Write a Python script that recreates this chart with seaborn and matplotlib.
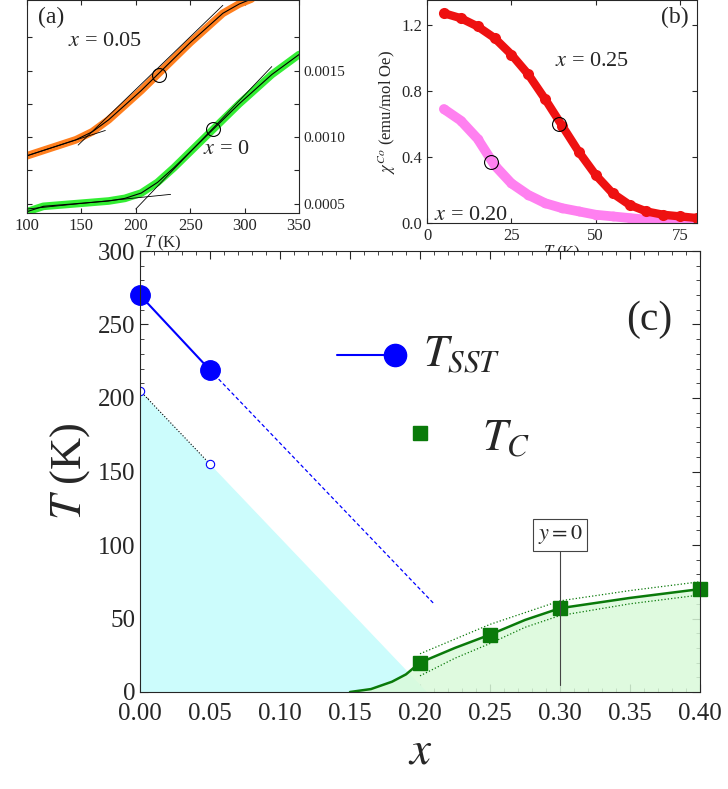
import numpy as np
import matplotlib.pyplot as plt
import seaborn as sns

# panel (a): susceptibility vs T
t_a = [100, 115, 130, 145, 160, 175, 190, 205, 220, 235, 250, 265, 280, 295, 310, 325, 340, 350]
chi_x005 = [0.00086, 0.00090, 0.00094, 0.00098, 0.00104, 0.00113, 0.00124, 0.00135, 0.00147, 0.00159, 0.00171, 0.00182, 0.00193, 0.00200, 0.00205, 0.00209, 0.00212, 0.00214]
chi_x0 = [0.00044, 0.00048, 0.00049, 0.00050, 0.00051, 0.00052, 0.00054, 0.00058, 0.00066, 0.00077, 0.00089, 0.00101, 0.00113, 0.00125, 0.00136, 0.00147, 0.00156, 0.00162]

# panel (b)
t_b = [5, 10, 15, 20, 25, 30, 35, 40, 45, 50, 55, 60, 65, 70, 75, 80]
chi_x025 = [1.27, 1.24, 1.19, 1.12, 1.02, 0.90, 0.75, 0.59, 0.43, 0.29, 0.18, 0.11, 0.07, 0.05, 0.04, 0.03]
chi_x020 = [0.69, 0.62, 0.51, 0.35, 0.24, 0.17, 0.12, 0.09, 0.07, 0.05, 0.04, 0.03, 0.02, 0.015, 0.01, 0.01]

# panel (c)
x_sst = [0.0, 0.05]
t_sst = [270, 219]
x_open = [0.0, 0.05]
t_open = [205, 155]
x_tc = [0.20, 0.25, 0.30, 0.40]
t_tc = [20, 39, 57, 70]
x_tc_curve = [0.15, 0.165, 0.18, 0.19, 0.20, 0.225, 0.25, 0.275, 0.30, 0.35, 0.40]
t_tc_curve = [0, 2, 7, 12, 20, 30, 39, 49, 57, 64, 70]
t_tc_upper = [None, None, None, None, 26, 36, 46, 54, 62, 69, 75]
t_tc_lower = [None, None, None, None, 11, 23, 33, 44, 52, 60, 66]

sns.set_style("ticks")
plt.rcParams['font.family'] = ['Liberation Serif', 'DejaVu Serif']
plt.rcParams['mathtext.fontset'] = 'stix'

fig = plt.figure(figsize=(7.28, 7.89), dpi=100)
W, H = 728, 789
def box(x0, y0, x1, y1):
    return [x0 / W, 1 - y1 / H, (x1 - x0) / W, (y1 - y0) / H]

# ---- (a)
axa = fig.add_axes(box(27, 0, 299, 213))
sns.lineplot(x=t_a, y=chi_x005, ax=axa, color='#ff7f1e', lw=5.5, solid_capstyle='round')
sns.lineplot(x=t_a, y=chi_x0, ax=axa, color='#33ee33', lw=5.5, solid_capstyle='round')
sns.lineplot(x=t_a, y=chi_x005, ax=axa, color='black', lw=0.8)
sns.lineplot(x=t_a, y=chi_x0, ax=axa, color='black', lw=0.8)
axa.plot([100, 172], [0.00086, 0.00105], color='black', lw=0.6)
axa.plot([147, 280], [0.00094, 0.00199], color='black', lw=0.6)
axa.plot([100, 232], [0.00046, 0.00057], color='black', lw=0.6)
axa.plot([200, 325], [0.00046, 0.00153], color='black', lw=0.6)
axa.plot([221, 271], [0.00147, 0.00106], 'o', ms=10, mfc='none', mec='black', mew=0.8)
axa.set_xlim(100, 350)
axa.set_ylim(0.00043, 0.00203)
axa.set_xticks([100, 150, 200, 250, 300, 350])
axa.set_yticks([0.0005, 0.00075, 0.0010, 0.00125, 0.0015, 0.00175])
axa.set_yticklabels(['0.0005', '', '0.0010', '', '0.0015', ''])
axa.yaxis.tick_right()
axa.tick_params(direction='in', labelsize=12, left=True, right=True, top=True)
axa.tick_params(axis='y', labelsize=11)
axa.set_xlabel(r'$T$ (K)', fontsize=12, labelpad=0)
axa.text(0.04, 0.97, '(a)', transform=axa.transAxes, fontsize=17, va='top')
axa.text(172, 0.00172, r'$x$ = 0.05', fontsize=16, ha='center', va='center')
axa.text(283, 0.00091, r'$x$ = 0', fontsize=16, ha='center', va='center')

# ---- (b)
axb = fig.add_axes(box(427, 0, 697, 223))
sns.lineplot(x=t_b, y=chi_x020, ax=axb, color='#ff80f0', lw=7, marker='o', ms=7, mec='none')
sns.lineplot(x=t_b, y=chi_x025, ax=axb, color='#ee1111', lw=6, marker='o', ms=8, mec='none')
axb.plot([19, 39], [0.37, 0.60], 'o', ms=10, mfc='none', mec='black', mew=0.8)
axb.set_xlim(0, 80)
axb.set_ylim(0, 1.35)
axb.set_xticks([0, 25, 50, 75])
axb.set_yticks([0, 0.4, 0.8, 1.2])
axb.tick_params(direction='in', labelsize=12, right=True, top=True)
axb.set_xlabel(r'$T$ (K)', fontsize=12, labelpad=0)
axb.set_ylabel(r'$\chi^{Co}$ (emu/mol Oe)', fontsize=12, labelpad=2)
axb.text(0.97, 0.97, '(b)', transform=axb.transAxes, fontsize=17, va='top', ha='right')
axb.text(38, 0.95, r'$x$ = 0.25', fontsize=16)
axb.text(2, 0.02, r'$x$ = 0.20', fontsize=16)

# ---- (c)
axc = fig.add_axes(box(140, 251, 700, 692))
axc.fill_between([0.0, 0.205], [205, 0], color='#ccfcfc', lw=0)
xu = x_tc_curve
axc.fill_between(xu, t_tc_curve, color='#dafada', lw=0, alpha=0.85)
sns.lineplot(x=xu, y=t_tc_curve, ax=axc, color='#0a7a0a', lw=1.8)
axc.plot(xu[4:], t_tc_upper[4:], ':', color='#0a7a0a', lw=0.9)
axc.plot(xu[4:], t_tc_lower[4:], ':', color='#0a7a0a', lw=0.9)
axc.plot(x_open, t_open, ':', color='black', lw=0.8)
axc.plot(x_open, t_open, 'o', ms=6, mfc='white', mec='blue', mew=0.8)
axc.plot([0.05, 0.21], [219, 60], '--', color='blue', lw=0.9, dashes=(3, 2))
axc.plot(x_sst, t_sst, '-o', color='blue', ms=14, lw=1.5, clip_on=False)
axc.plot(x_tc, t_tc, 's', color='#0a7a0a', ms=10, clip_on=False)
axc.plot([0.30, 0.30], [5, 100], color='#444444', lw=0.8)
axc.text(0.30, 107, r'$y = 0$', fontsize=16, ha='center', va='center',
         bbox=dict(boxstyle='square,pad=0.2', fc='white', ec='#444444', lw=0.8))
axc.plot([0.141, 0.182], [229, 229], '-o', color='blue', lw=1.5, ms=16, markevery=[1])
axc.plot([0.200], [176], 's', color='#0a7a0a', ms=10)
axc.text(0.202, 229, r'$T_{SST}$', fontsize=32, va='center')
axc.text(0.244, 172, r'$T_C$', fontsize=32, va='center')
axc.text(0.364, 253, '(c)', fontsize=30, ha='center', va='center')
axc.set_xlim(0, 0.40)
axc.set_ylim(0, 300)
axc.set_xticks(np.arange(0, 0.401, 0.05))
axc.set_xticklabels(['%.2f' % v for v in np.arange(0, 0.401, 0.05)])
axc.set_xticks(np.arange(0, 0.401, 0.01), minor=True)
axc.set_yticks(range(0, 301, 50))
axc.set_yticks(range(0, 301, 10), minor=True)
axc.tick_params(which='both', direction='in', labelsize=18, right=True, top=True)
axc.tick_params(which='major', length=6)
axc.tick_params(axis='x', which='major', pad=8)
axc.tick_params(which='minor', length=3)
axc.set_xlabel(r'$x$', fontsize=34)
axc.set_ylabel(r'$T$ (K)', fontsize=32, labelpad=4)

fig.savefig('out.png', dpi=100)
